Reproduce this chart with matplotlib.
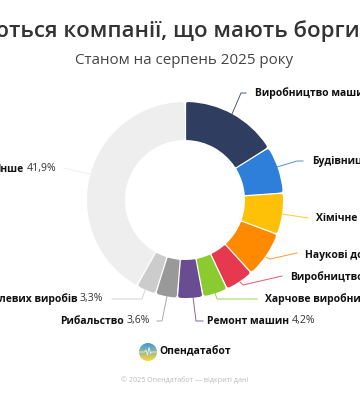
import numpy as np
import matplotlib
matplotlib.use("Agg")
import matplotlib.pyplot as plt
from matplotlib.patches import Circle

plt.rcParams['font.family'] = ['Open Sans', 'DejaVu Sans']

# data
categories = ["Виробництво машин", "Будівництво", "Хімічне виробництво", "Наукові дослідження",
              "Виробництво", "Харчове виробництво", "Ремонт машин", "Рибальство",
              "левих виробів", "Інше"]
values = [16.1, 7.8, 6.8, 7.6, 4.7, 4.1, 4.2, 3.6, 3.3, 41.9]
value_labels = ["16,1%", "7,8%", "6,8%", "7,6%", "4,7%", "4,1%", "4,2%", "3,6%", "3,3%", "41,9%"]
colors = ["#2f3e60", "#2e7fd9", "#ffc107", "#ff8a00", "#e63950", "#8ccb2f", "#6a4c93", "#999999", "#cccccc", "#eeeeee"]

# layout (pixels, y from top)
W, H = 360, 400
CX, CY, R_OUT, R_IN = 185, 200, 98, 60
label_pos = [(255, 93, 'left'), (312, 161, 'left'), (316, 218, 'left'), (305, 255, 'left'),
             (290, 277, 'left'), (265, 299, 'left'), (207, 321, 'left'), (150, 321, 'right'),
             (103, 299, 'right'), (56, 169, 'right')]
leaders = [[(232, 114), (241, 93), (246, 93)],
           [(277, 167), (297, 161), (303, 161)],
           [(282, 214), (308, 218)],
           [(266, 257), (270, 259), (297, 253)],
           [(240, 282), (243, 285), (282, 276)],
           [(215, 293), (217, 299), (257, 299)],
           [(193, 297), (196, 321), (203, 321)],
           [(167, 296), (162, 321), (157, 321)],
           [(145, 290), (142, 299), (112, 299)],
           [(90, 174), (63, 168)]]
NAME_SIZE = 7.45
VALUE_SIZE = 7.6
pulse_x = [-9, -3.5, -2, -0.5, 1, 2.5, 3.5, 9]
pulse_y = [0, 0, 2, -3, 4.5, -1.5, 0, 0]

fig = plt.figure(figsize=(W / 100, H / 100), dpi=100, facecolor='white')
ax = fig.add_axes([0, 0, 1, 1])

wedges, _ = ax.pie(values, colors=colors, startangle=90, counterclock=False,
                   center=(CX, H - CY), radius=R_OUT, frame=True,
                   wedgeprops=dict(width=R_OUT - R_IN))
ax.set_xlim(0, W)
ax.set_ylim(0, H)
ax.set_aspect('equal')
ax.axis('off')

# rounded corners, with white separators giving a constant-width gap
round_r = 2.5
mid_r = (R_OUT + R_IN) / 2
boundaries = []
for w, c in zip(wedges, colors):
    dth = np.degrees(round_r / mid_r)
    t1, t2 = w.theta1, w.theta2
    boundaries.append(t1)
    w.set_theta1(t1 + dth)
    w.set_theta2(t2 - dth)
    w.set_radius(R_OUT - round_r)
    w.set_width(R_OUT - R_IN - 2 * round_r)
    w.set_edgecolor(c)
    w.set_linewidth(2 * round_r * 72 / 100)
    w.set_joinstyle('round')
for th in boundaries:
    a = np.radians(th)
    ax.plot([CX + (R_IN - 4) * np.cos(a), CX + (R_OUT + 1) * np.cos(a)],
            [H - CY + (R_IN - 4) * np.sin(a), H - CY + (R_OUT + 1) * np.sin(a)],
            color='white', lw=0.9, zorder=2, solid_capstyle='butt')

for pts, c in zip(leaders, colors):
    xs, ys = zip(*pts)
    ax.plot(xs, [H - y for y in ys], color=c, lw=0.7, alpha=0.85, zorder=0.5)

# labels
for name, val, (x, y, ha) in zip(categories, value_labels, label_pos):
    if ha == 'left':
        t = ax.text(x, H - y, name, ha='left', va='center', fontsize=NAME_SIZE,
                    fontweight='bold', color='#111111')
        fig.canvas.draw()
        bb = t.get_window_extent()
        ax.text(bb.x1 + 2.5, H - y, val, ha='left', va='center', fontsize=VALUE_SIZE, color='#333333')
    else:
        t = ax.text(x, H - y, val, ha='right', va='center', fontsize=VALUE_SIZE, color='#333333')
        fig.canvas.draw()
        bb = t.get_window_extent()
        ax.text(bb.x0 - 2.5, H - y, name, ha='right', va='center', fontsize=NAME_SIZE,
                fontweight='bold', color='#111111')

# title and subtitle (the reference is cropped at both edges)
ax.text(360, H - 31, "ються компанії, що мають борги", ha='right', va='center',
        fontsize=16, fontweight='semibold', color='#333333')
ax.text(184.5, H - 60, "Станом на серпень 2025 року", ha='center', va='center',
        fontsize=10.9, color='#444444')

# logo
grad = np.linspace(0, 1, 64)[:, None]
top, bottom = np.array([0.22, 0.60, 0.92]), np.array([1.0, 0.84, 0.22])
img = top[None, None, :] * (1 - grad[..., None]) + bottom[None, None, :] * grad[..., None]
logo_x, logo_y, logo_r = 148, 352, 9
clip = Circle((logo_x, H - logo_y), logo_r, transform=ax.transData)
im = ax.imshow(img, extent=(logo_x - logo_r, logo_x + logo_r, H - logo_y - logo_r, H - logo_y + logo_r),
               origin='upper', aspect='auto', zorder=3)
im.set_clip_path(clip)
pl, = ax.plot(logo_x + np.array(pulse_x), H - logo_y + np.array(pulse_y), color='#e8f2f5', lw=0.6, zorder=4)
pl.set_clip_path(clip)
ax.set_xlim(0, W)
ax.set_ylim(0, H)
ax.text(159, H - 352, "Опендатабот", ha='left', va='center', fontsize=7.5,
        fontweight='bold', color='#111111')
ax.text(185, H - 380, "© 2025 Опендатабот — відкриті дані", ha='center', va='center',
        fontsize=5.15, color='#bbbbbb')

fig.savefig("out.png", dpi=100, facecolor='white')
